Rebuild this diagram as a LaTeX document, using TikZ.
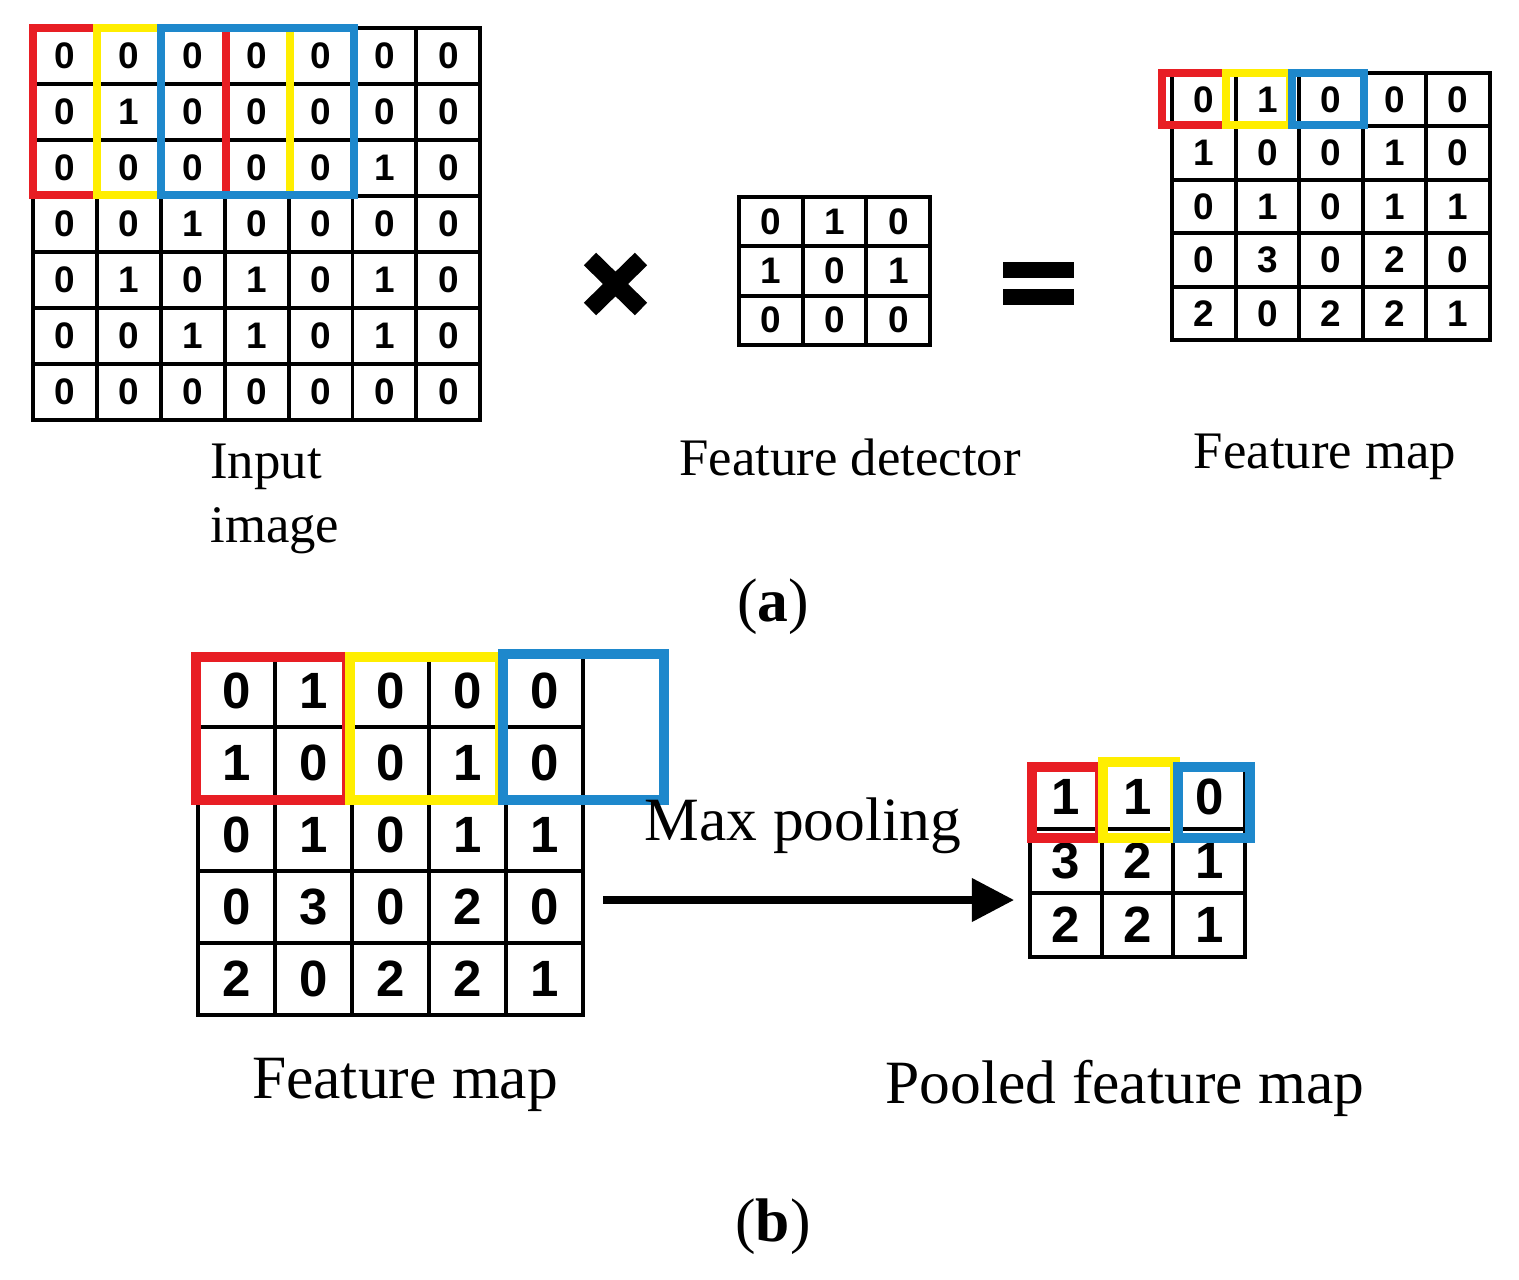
\documentclass[tikz,border=0pt]{standalone}
\usepackage{fontspec}
\setmainfont{Liberation Serif}
\newfontfamily\digits{Liberation Sans}
\usetikzlibrary{arrows.meta}

\tikzset{
    cell/.style={draw=black, line width=1.1pt},
    smalldigit/.style={font=\digits\bfseries\fontsize{10.5}{11}\selectfont},
    bigdigit/.style={font=\digits\bfseries\fontsize{14.5}{15}\selectfont},
    caption/.style={font=\fontsize{15}{18}\selectfont},
    bigcaption/.style={font=\fontsize{17.5}{20}\selectfont},
    win/.style={line width=#1},
}
\definecolor{winred}{RGB}{232,30,36}
\definecolor{winyellow}{RGB}{255,238,0}
\definecolor{winblue}{RGB}{30,136,204}

% #1,#2 top left, #3 cell width, #4 cell height, #5 digit style, #6 rows
\newcommand\numgrid[6]{%
    \foreach \row [count=\r] in {#6} {
        \foreach \v [count=\c] in \row {
            \draw[cell] ({#1+(\c-1)*#3},{#2+(\r-1)*#4}) rectangle ++(#3,#4);
            \node[#5] at ({#1+(\c-0.5)*#3},{#2+(\r-0.5)*#4}) {\v};
        }
    }
}

\begin{document}
\begin{tikzpicture}[x=0.01cm, y=-0.01cm]
    \useasboundingbox (0,0) rectangle (1519,1279);

    % (a) convolution
    \numgrid{33}{28}{63.9}{56}{smalldigit}{{0,0,0,0,0,0,0},{0,1,0,0,0,0,0},{0,0,0,0,0,1,0},{0,0,1,0,0,0,0},{0,1,0,1,0,1,0},{0,0,1,1,0,1,0},{0,0,0,0,0,0,0}}
    \numgrid{739}{197}{63.7}{49.3}{smalldigit}{{0,1,0},{1,0,1},{0,0,0}}
    \numgrid{1172}{73}{63.6}{53.4}{smalldigit}{{0,1,0,0,0},{1,0,0,1,0},{0,1,0,1,1},{0,3,0,2,0},{2,0,2,2,1}}

    \draw[winred, win=2.4pt] (33,28) rectangle (226,195);
    \draw[winyellow, win=2.4pt] (97,28) rectangle (290,195);
    \draw[winblue, win=2.4pt] (161,28) rectangle (354,195);
    \draw[winred, win=2.4pt] (1162,73) rectangle (1226,125);
    \draw[winyellow, win=2.4pt] (1226,73) rectangle (1290,125);
    \draw[winblue, win=2.4pt] (1292,73) rectangle (1364,125);

    % times and equals
    \draw[line width=5pt] (590,259) -- (641,309) (641,259) -- (590,309);
    \fill (1003,262) rectangle (1074,278);
    \fill (1003,289) rectangle (1074,305);

    \node[caption, align=left, anchor=north west] (inlbl) at (198,432) {Input\\image};
    \node[caption] (fdlbl) at (850,457) {Feature detector};
    \node[caption] (fmlbl) at (1325,457) {Feature map};
    \node[bigcaption] (alab) at (773,607) {(\textbf{a})};

    % (b) max pooling
    \numgrid{198}{655}{77}{72}{bigdigit}{{0,1,0,0,0},{1,0,0,1,0},{0,1,0,1,1},{0,3,0,2,0},{2,0,2,2,1}}
    \numgrid{1030}{765}{71.7}{64}{bigdigit}{{1,1,0},{3,2,1},{2,2,1}}

    \draw[winred, win=3pt] (196,657) rectangle (347,800);
    \draw[winyellow, win=3pt] (350,657) rectangle (500,800);
    \draw[winblue, win=3pt] (503,654) rectangle (664,800);
    \draw[winred, win=3pt] (1032,767) rectangle (1100,838);
    \draw[winyellow, win=3pt] (1103,762) rectangle (1175,838);
    \draw[winblue, win=3pt] (1178,767) rectangle (1250,838);

    \coordinate (from) at (603,900);
    \coordinate (to) at (1014,900);
    \draw[line width=2pt, -{Triangle[length=12pt, width=12pt]}] (from) -- (to);
    \node[bigcaption] (mplbl) at (803,826) {Max pooling};

    \node[bigcaption] (fmlbl2) at (405,1085) {Feature map};
    \node[bigcaption] (pflbl) at (1125,1088) {Pooled feature map};
    \node[bigcaption] (blab) at (773,1227) {(\textbf{b})};
\end{tikzpicture}
\end{document}
